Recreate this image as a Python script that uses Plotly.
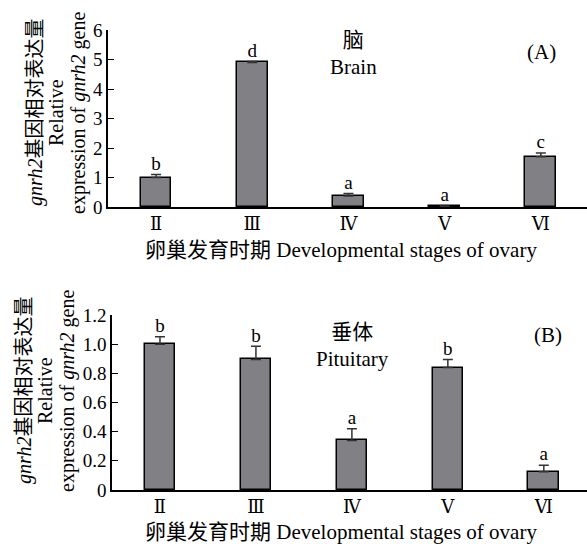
import plotly.graph_objects as go

stages = ["Ⅱ", "Ⅲ", "Ⅳ", "Ⅴ", "Ⅵ"]

brain_values = [1.0, 4.9, 0.37, 0.02, 1.70]
brain_errors = [0.10, 0.03, 0.09, 0.01, 0.13]
brain_letters = ["b", "d", "a", "a", "c"]

pit_values = [1.0, 0.895, 0.34, 0.84, 0.125]
pit_errors = [0.05, 0.09, 0.08, 0.055, 0.045]
pit_letters = ["b", "b", "a", "b", "a"]

FONT = "'Liberation Serif', 'Times New Roman', 'Noto Sans CJK SC', serif"
TICKFONT = "'DejaVu Serif', 'Liberation Serif', serif"
BAR_COLOR = "#808085"

fig = go.Figure()


def add_panel(values, errors, letters, xa, ya):
    fig.add_trace(go.Bar(
        x=list(range(len(stages))), y=values, width=0.32,
        marker=dict(color=BAR_COLOR, line=dict(color="black", width=1.5)),
        error_y=dict(type="data", symmetric=False, array=errors,
                     arrayminus=[0] * len(errors), color="#333333",
                     thickness=1.5, width=5),
        xaxis=xa, yaxis=ya, showlegend=False,
    ))
    fig.add_trace(go.Scatter(
        x=list(range(len(stages))),
        y=[v + e for v, e in zip(values, errors)],
        mode="text", text=letters, textposition="top center",
        textfont=dict(family=FONT, size=19, color="black"),
        xaxis=xa, yaxis=ya, showlegend=False, cliponaxis=False,
    ))


add_panel(brain_values, brain_errors, brain_letters, "x", "y")
add_panel(pit_values, pit_errors, pit_letters, "x2", "y2")

W, H = 587, 544


def px(xp):
    return xp / W


def py(yp):
    return 1 - yp / H


xcommon = dict(tickmode="array", tickvals=list(range(len(stages))), ticktext=stages,
               showline=True, linecolor="black", linewidth=1.5, ticks="",
               showgrid=False, zeroline=False, automargin=False, fixedrange=True,
               tickfont=dict(family=TICKFONT, size=18, color="black"))
ycommon = dict(showline=True, linecolor="black", linewidth=1.5, ticks="inside",
               ticklen=6, tickcolor="black", tickwidth=1.2, showgrid=False,
               zeroline=False, automargin=False, fixedrange=True,
               tickfont=dict(family=FONT, size=19, color="black"))

xtitle = "卵巢发育时期 Developmental stages of ovary"
ytitle_lines = ["<i>gnrh2</i>基因相对表达量", "Relative", "expression of <i>gnrh2</i> gene"]

fig.update_layout(
    width=W, height=H, autosize=False, margin=dict(l=0, r=0, t=0, b=0, pad=0),
    paper_bgcolor="white", plot_bgcolor="white",
    font=dict(family=FONT, color="black"),
    bargap=0,
    xaxis=dict(domain=[px(108), 1], range=[-0.5, 4.48], anchor="y", **xcommon),
    yaxis=dict(domain=[py(207), py(30)], range=[0, 6], anchor="x",
               tickvals=[0, 1, 2, 3, 4, 5, 6], **ycommon),
    xaxis2=dict(domain=[px(112), 1], range=[-0.5, 4.45], anchor="y2", **xcommon),
    yaxis2=dict(domain=[py(490), py(315)], range=[0, 1.2], anchor="x2",
                tickvals=[0, 0.2, 0.4, 0.6, 0.8, 1.0, 1.2],
                ticktext=["0", "0.2", "0.4", "0.6", "0.8", "1.0", "1.2"], **ycommon),
)


def note(x, y, text, size, angle=0):
    return dict(x=px(x), y=py(y), xref="paper", yref="paper", text=text,
                xanchor="center", yanchor="middle", textangle=angle,
                showarrow=False, align="center",
                font=dict(family=FONT, size=size, color="black"))


ann = [
    note(341, 250, xtitle, 21),
    note(341, 532, xtitle, 21),
    note(353, 54, "脑<br>Brain", 21),
    note(541, 52, "(A)", 21),
    note(352, 345, "垂体<br>Pituitary", 21),
    note(548, 335, "(B)", 21),
]
for xs, yc in (([35, 56, 78], 113), ([24, 45, 67], 391)):
    for xl, line in zip(xs, ytitle_lines):
        ann.append(note(xl, yc, line, 20, -90))
fig.update_layout(annotations=ann)

fig.write_html(
    "out.html",
    config={"displayModeBar": False},
    post_script="document.body.style.margin='0';document.body.style.overflow='hidden';",
)
